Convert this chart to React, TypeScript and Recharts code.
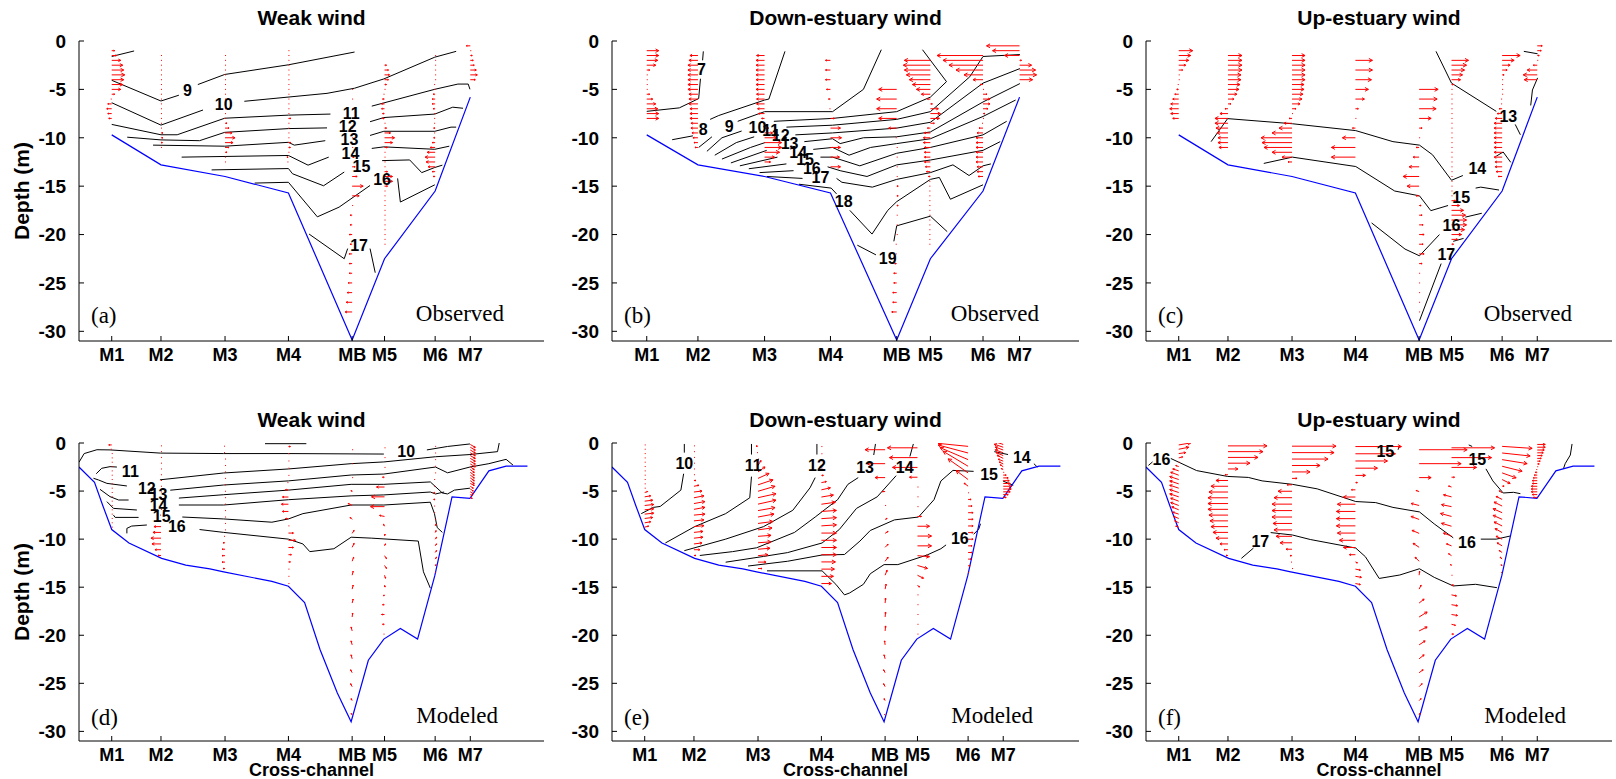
import React from 'react';
import { ComposedChart, Line, Scatter, XAxis, YAxis } from 'recharts';

type Pt = [number, number];
interface Contour { t?: string; at?: Pt; segs: Pt[][] }
interface Profile { st: string; top?: number; dz?: number; u: number[]; w?: number[] }

const STATIONS = ['M1', 'M2', 'M3', 'M4', 'MB', 'M5', 'M6', 'M7'];
const STATION_X = [0.95, 2.38, 4.24, 6.08, 7.93, 8.87, 10.34, 11.36];
const DEPTH_TICKS = [-30, -25, -20, -15, -10, -5, 0];

// bottom depth at the stations (observed sections)
const obsBed = [-9.7, -12.8, -14.0, -15.7, -30.9, -22.5, -15.5, -5.8];

// model bathymetry
const modelBed: Pt[] = [
  [0, -2.5], [0.45, -4.1], [0.7, -6.6], [0.95, -9.0], [1.45, -10.4], [2.4, -12.0], [3.1, -12.7],
  [3.8, -13.1], [4.2, -13.4], [5.6, -14.4], [6.08, -14.9], [6.55, -16.6], [7.0, -21.5], [7.5, -26.0],
  [7.9, -29.0], [8.4, -22.6], [8.85, -20.4], [9.33, -19.3], [9.83, -20.4], [10.33, -13.8],
  [10.83, -5.6], [11.35, -5.75], [11.9, -2.9], [12.4, -2.4], [13.02, -2.4],
];

// model sigma layers: [first depth, spacing]
const SIGMA: Record<string, Pt> = {
  M1: [-0.2, 0.45], M2: [-0.3, 0.6], M3: [-0.33, 0.67], M4: [-0.37, 0.75],
  MB: [-0.7, 1.45], M5: [-0.5, 1.02], M6: [-0.35, 0.69], M7: [-0.15, 0.29],
};

// ---------- isohalines (salinity contours) ----------
const weakObsContours: Contour[] = [
  { segs: [[[0.95, -1.6], [1.6, -1.03]]] },
  { t: '9', at: [3.15, -5.1], segs: [[[0.95, -4.06], [2.38, -6.2], [2.9, -5.6]], [[3.45, -4.5], [4.23, -3.46], [6.08, -2.46], [8.0, -1.14]]] },
  { t: '10', at: [4.2, -6.6], segs: [[[0.95, -6.38], [2.38, -8.69], [3.6, -7.13]], [[4.8, -6.23], [7.2, -5.41], [8.0, -4.88], [8.85, -3.92], [10.33, -1.67], [10.95, -1.07]]] },
  { t: '11', at: [7.9, -7.45], segs: [[[0.95, -8.62], [2.38, -9.69], [2.85, -9.69], [4.23, -7.98], [6.08, -7.66], [7.3, -7.55]], [[8.5, -6.73], [10.33, -4.99], [11.0, -4.45], [11.3, -4.45], [11.35, -4.99]]] },
  { t: '12', at: [7.8, -8.8], segs: [[[1.4, -9.94], [2.38, -10.22], [3.5, -10.3], [4.23, -9.44], [6.08, -9.05], [7.2, -8.98]], [[8.45, -8.34], [8.85, -7.91], [10.33, -7.55], [10.85, -6.84], [11.15, -6.95]]] },
  { t: '13', at: [7.85, -10.2], segs: [[[2.15, -10.76], [4.23, -10.87], [6.08, -10.47], [6.25, -10.76], [7.15, -10.3]], [[8.45, -9.76], [8.85, -9.33], [10.33, -9.33], [10.8, -8.9], [10.95, -8.9]]] },
  { t: '14', at: [7.88, -11.65], segs: [[[2.98, -12.0], [6.08, -11.83], [6.65, -12.83], [7.25, -12.0]], [[8.5, -11.1], [8.85, -10.94], [10.33, -11.19], [10.75, -10.87]]] },
  { t: '15', at: [8.2, -13.0], segs: [[[3.85, -13.32], [6.08, -13.18], [6.2, -13.72], [7.1, -14.96], [7.7, -13.54]], [[8.8, -12.36], [9.6, -12.29], [9.95, -13.6], [10.33, -13.07], [10.55, -12.83]]] },
  { t: '16', at: [8.8, -14.25], segs: [[[5.1, -14.68], [6.08, -14.6], [6.92, -18.17], [7.55, -17.17], [8.45, -14.93]], [[9.25, -14.2], [9.33, -16.64], [10.33, -14.86]]] },
  { t: '17', at: [8.13, -21.1], segs: [[[6.68, -19.95], [7.7, -22.5], [7.8, -21.45]], [[8.45, -21.45], [8.6, -23.94]]] },
];

const downObsContours: Contour[] = [
  { t: '7', at: [2.48, -2.92], segs: [[[0.95, -7.27], [1.86, -6.91], [2.4, -5.95], [2.45, -3.9]], [[2.51, -2.0], [2.53, -1.07]]] },
  { t: '8', at: [2.53, -9.16], segs: [[[1.66, -10.2], [2.24, -9.8]], [[2.72, -8.1], [2.96, -7.7], [4.24, -6.1], [4.36, -6.0], [4.81, -1.07]]] },
  { t: '9', at: [3.25, -8.87], segs: [[[2.4, -11.0], [2.77, -9.9]], [[3.49, -8.3], [4.24, -7.3], [6.14, -7.3], [7.0, -5.0], [7.5, -0.9]]] },
  { t: '10', at: [4.04, -8.91], segs: [[[2.63, -11.4], [3.05, -10.0], [3.6, -9.3]], [[4.5, -8.3], [6.14, -8.0], [7.93, -7.3], [8.87, -5.8], [9.32, -4.2], [8.65, -0.9]]] },
  { t: '11', at: [4.41, -9.26], segs: [[[2.85, -11.8], [3.45, -10.5], [3.95, -9.9]], [[4.85, -8.9], [6.14, -8.7], [7.93, -8.1], [8.87, -7.3], [9.97, -3.7], [10.34, -1.6], [11.37, -1.4]]] },
  { t: '12', at: [4.69, -9.76], segs: [[[3.05, -12.2], [3.85, -11.0], [4.25, -10.5]], [[5.1, -9.7], [6.14, -9.5], [7.93, -9.0], [8.87, -8.4], [10.34, -4.35], [11.37, -2.85]]] },
  { t: '13', at: [4.94, -10.58], segs: [[[3.3, -12.6], [4.3, -11.3]], [[5.35, -10.4], [6.14, -10.1], [6.35, -10.6], [7.0, -10.0], [7.93, -9.9], [8.87, -9.4], [10.34, -6.3], [11.37, -4.4]]] },
  { t: '14', at: [5.18, -11.47], segs: [[[3.55, -12.9], [4.6, -12.0]], [[5.6, -11.2], [6.14, -11.0], [6.6, -11.8], [7.2, -11.0], [7.93, -10.6], [8.87, -10.1], [10.34, -7.8], [11.25, -6.1]]] },
  { t: '15', at: [5.37, -12.26], segs: [[[3.8, -13.2], [4.85, -12.7]], [[5.8, -12.0], [6.14, -12.0], [6.9, -12.9], [7.93, -11.6], [8.87, -11.0], [10.34, -9.7], [11.0, -8.3]]] },
  { t: '16', at: [5.56, -13.15], segs: [[[4.1, -13.6], [5.05, -13.4]], [[6.0, -13.0], [6.35, -13.4], [7.1, -14.0], [7.93, -12.8], [8.87, -12.3], [10.34, -11.3], [10.82, -10.4]]] },
  { t: '17', at: [5.8, -14.14], segs: [[[4.3, -14.0], [5.3, -14.2]], [[6.25, -14.2], [6.4, -14.6], [7.25, -15.1], [7.93, -14.3], [8.87, -13.6], [9.5, -12.8], [9.95, -13.9], [10.34, -12.9], [10.56, -12.7]]] },
  { t: '18', at: [6.45, -16.53], segs: [[[5.2, -14.8], [6.1, -15.2], [6.25, -15.8]], [[6.62, -17.5], [7.24, -19.95], [7.68, -17.5], [7.93, -16.6], [8.87, -14.3], [9.12, -14.1], [9.43, -16.35], [10.34, -14.86]]] },
  { t: '19', at: [7.68, -22.44], segs: [[[6.83, -21.1], [7.35, -22.1]], [[7.85, -20.7], [7.93, -19.1], [8.87, -18.1], [9.34, -19.7]]] },
];

const upObsContours: Contour[] = [
  { t: '13', at: [10.52, -7.84], segs: [[[8.42, -1.07], [8.87, -4.35], [10.17, -7.27]], [[10.72, -8.62], [10.87, -9.69]]] },
  { segs: [[[10.97, -1.07], [11.37, -1.32]], [[11.37, -3.81], [11.22, -5.06], [11.17, -6.66]]] },
  { t: '14', at: [9.62, -13.15], segs: [[[1.89, -10.4], [2.37, -8.02], [4.25, -8.55], [6.09, -9.26], [7.17, -10.4], [7.94, -10.76], [8.32, -11.76], [8.87, -14.39], [9.2, -13.9]], [[10.17, -11.9], [10.37, -11.47], [10.59, -12.54]]] },
  { t: '15', at: [9.15, -16.2], segs: [[[3.42, -12.65], [4.25, -12.0], [6.09, -12.97], [7.22, -15.5], [7.94, -16.0], [8.27, -17.53], [8.77, -17.0]], [[9.57, -15.2], [9.72, -15.1], [10.25, -15.4]]] },
  { t: '16', at: [8.87, -19.1], segs: [[[6.55, -18.8], [7.52, -21.5], [7.94, -22.2], [8.52, -20.0]], [[9.27, -18.2], [9.75, -17.8]]] },
  { t: '17', at: [8.72, -22.0], segs: [[[7.94, -28.9], [8.57, -23.0]], [[8.92, -20.7], [9.22, -20.4]]] },
];

const weakModContours: Contour[] = [
  { segs: [[[5.4, -0.07], [6.6, -0.07]]] },
  { t: '10', at: [9.5, -0.9], segs: [[[0, -2.0], [0.15, -1.1], [0.52, -0.7], [0.9, -0.72], [2.36, -1.05], [4.2, -1.1], [6.08, -1.1], [8.85, -1.15]], [[10.1, -0.72], [10.7, -0.36], [11.35, -0.1]]] },
  { t: '11', at: [1.49, -2.97], segs: [[[0.5, -3.2], [0.66, -2.63], [0.9, -2.46], [1.1, -2.5]], [[2.35, -3.83], [4.2, -3.12], [6.08, -2.7], [7.9, -2.15], [8.85, -1.97], [10.35, -1.43], [11.35, -1.2], [12.15, -0.9], [12.2, 0]]] },
  { t: '12', at: [1.97, -4.71], segs: [[[0.42, -3.67], [0.57, -3.85], [0.81, -4.2], [1.39, -4.47]], [[2.65, -4.91], [4.2, -4.37], [6.08, -3.94], [7.9, -3.33], [8.85, -3.23], [10.35, -2.5], [10.7, -3.1], [11.35, -2.5], [11.9, -2.15], [12.4, -1.7], [12.6, -2.3]]] },
  { t: '13', at: [2.31, -5.3], segs: [[[0.61, -4.82], [0.9, -5.58], [1.15, -5.93], [1.44, -5.93]], [[2.9, -5.73], [4.2, -5.38], [6.08, -4.9], [7.9, -4.3], [8.85, -4.3], [10.2, -4.05], [10.55, -5.2], [10.7, -5.3], [10.9, -4.9], [11.35, -4.7]]] },
  { t: '14', at: [2.31, -6.45], segs: [[[0.81, -6.1], [1.0, -6.8], [1.68, -6.97]], [[2.9, -6.45], [4.2, -6.45], [6.08, -5.9], [7.9, -5.5], [8.85, -5.4], [10.2, -5.1], [10.35, -5.3], [10.6, -5.1]]] },
  { t: '15', at: [2.4, -7.6], segs: [[[1.0, -7.5], [1.05, -7.74], [1.73, -7.74]], [[3.0, -7.7], [4.2, -7.9], [5.6, -8.24], [6.08, -7.9], [6.5, -7.35], [7.9, -6.45], [8.85, -6.45], [10.2, -6.16], [10.32, -7.35], [10.4, -8.8], [10.55, -9.3]]] },
  { t: '16', at: [2.84, -8.7], segs: [[[1.39, -9.4], [1.39, -8.88], [1.53, -8.64], [1.97, -8.53]], [[3.5, -9.0], [4.2, -9.3], [6.08, -10.0], [6.5, -10.5], [6.7, -11.3], [7.4, -11.0], [7.9, -9.8], [8.5, -9.9], [9.85, -10.2], [10.0, -13.4], [10.2, -15.1]]] },
];

const downModContours: Contour[] = [
  { t: '10', at: [2.1, -2.15], segs: [[[0.85, -7.35], [1.2, -6.7], [1.4, -6.6], [2.0, -4.9], [2.08, -3.2]], [[2.1, -1.0], [2.1, -0.1]]] },
  { t: '11', at: [4.1, -2.33], segs: [[[1.55, -10.4], [2.4, -8.7], [3.3, -7.35], [4.0, -5.7], [4.05, -3.5]], [[4.05, -1.2], [4.05, -0.1]]] },
  { t: '12', at: [5.95, -2.33], segs: [[[2.1, -11.2], [3.3, -10.0], [4.4, -8.7], [5.25, -7.0], [5.75, -4.66], [5.9, -3.6]], [[5.95, -1.2], [5.95, -0.1]]] },
  { t: '13', at: [7.35, -2.5], segs: [[[2.55, -11.7], [3.5, -11.3], [4.2, -10.9], [5.3, -9.3], [5.9, -7.7], [6.55, -5.9], [6.85, -4.3], [7.15, -3.6]], [[7.6, -1.25], [7.65, -0.1]]] },
  { t: '14', at: [8.5, -2.5], segs: [[[3.3, -12.4], [4.4, -11.8], [5.1, -11.4], [6.1, -10.4], [6.6, -9.0], [7.1, -6.8], [7.7, -5.6], [8.25, -3.4]], [[8.65, -1.4], [8.75, -0.1]]] },
  { t: '15', at: [10.95, -3.23], segs: [[[3.95, -12.8], [5.1, -12.3], [6.1, -11.65], [6.75, -11.6], [7.2, -10.2], [7.5, -9.1], [8.2, -8.0], [8.9, -7.7], [9.35, -5.9], [9.55, -3.95], [9.9, -2.85], [10.5, -2.95]], [[11.35, -3.95], [11.65, -4.4]]] },
  { t: '16', at: [10.1, -9.93], segs: [[[4.5, -13.3], [6.1, -13.3], [6.5, -14.7], [6.75, -15.8], [6.9, -15.6], [7.3, -14.7], [7.5, -13.6], [7.9, -12.65], [8.3, -12.65], [9.15, -11.65], [9.55, -11.0], [9.7, -10.6]], [[10.5, -9.5], [10.65, -8.95], [10.7, -8.4]]] },
  { t: '14', at: [11.9, -1.54], segs: [[[11.1, -0.9], [11.5, -1.2]], [[12.25, -2.15], [12.35, -2.5]]] },
];

const upModContours: Contour[] = [
  { t: '16', at: [0.45, -1.68], segs: [[[0.07, -2.33], [0.19, -1.97]], [[0.72, -1.61], [1.47, -2.87], [2.37, -3.48], [2.97, -3.58], [3.37, -3.94], [4.25, -4.3], [4.97, -4.77], [6.09, -6.09], [6.67, -6.2], [7.17, -6.7], [7.94, -7.17], [8.37, -8.42], [8.92, -9.86]]] },
  { t: '16', at: [9.32, -10.39], segs: [[[9.72, -10.0], [10.17, -10.0], [10.57, -9.68]]] },
  { t: '17', at: [3.32, -10.22], segs: [[[2.77, -12.0], [3.12, -10.93]], [[3.62, -9.32], [4.25, -9.57], [4.77, -10.04], [6.09, -10.93], [6.37, -11.83], [6.77, -14.09], [7.37, -13.73], [7.94, -13.08], [8.37, -13.98], [8.92, -14.87], [9.57, -14.7], [10.19, -15.05]]] },
  { t: '15', at: [6.95, -0.9], segs: [[[7.35, -0.36], [7.32, -0.7]]] },
  { t: '15', at: [9.62, -1.68], segs: [[[9.37, -0.2], [9.47, -0.36]], [[9.87, -2.69], [10.07, -3.94], [10.37, -5.2], [10.67, -5.13], [10.87, -5.27]], [[12.37, -0.1], [12.32, -1.25], [12.17, -2.15], [12.12, -2.69]]] },
];

// ---------- velocity profiles (cm/s, across-channel u and vertical w) ----------
const weakObsArrows: Profile[] = [
  { st: 'M1', top: -1, dz: 0.5, u: [3, 5, 9, 11, 12, 13, 12, 11, 9, 3, -1, -4, -5, -4, -3] },
  { st: 'M2', top: -1.5, dz: 0.5, u: [0.5, 0.5, 0.5, 0.5, 0.5, 0.5, 0.5, 0.5, 0.5, 0.5, 0.5, 0.5, 0.5, 0.5, 0.5, 1, 2, 2, 1.5, 0.5] },
  { st: 'M3', top: -1.5, dz: 0.5, u: [0.5, 0.5, 0.5, 0.5, 0.5, 0.5, 0.5, 0.5, 0.5, 0.5, 0.5, 0.5, 0.5, 1, 2, 4, 7, 10, 8, 4, 2, 1, 0.5] },
  { st: 'M4', top: -1, dz: 0.5, u: [0.5, 0.5, 0.5, 0.5, 0.5, 0.5, 1, 0.5, 0.5, 0.5, 0.5, 0.5, 0.5, 1, 2.5, 1, 0.5, 0.5, 1, 2.5, 2, 0.5, -1.5, -0.5] },
  { st: 'MB', top: -5, dz: 1, u: [0.5, 0.5, 0.5, 0.5, 0.5, 0.5, 1, 2, 3, 5, 11, 7, 1, -2, -2, -3, -2, -3, -3, -3, -4, -5, -6, -7] },
  { st: 'M5', top: -2.5, dz: 0.5, u: [2, 4, 5, 4, 2, 1, -1, -2, -3, -3, -2, -2, 1, 2, 6, 10, 8, 3, 1, 1, 1, 1, 3, 8, 8, 3, 1, 0.5, 0.5, 0.5, 0.5, 0.5, 0.5, 0.5, 0.5, 0.5, 0.5, 0.5] },
  { st: 'M6', top: -1.5, dz: 0.5, u: [0.5, 0.5, 0.5, 0.5, 0.5, 0.5, -0.5, -1, -2, -3, -3, -2, -1, -1, -1, -1.5, -1, -1.5, -3, -5, -8, -10, -9, -7, -3, -2] },
  { st: 'M7', top: -0.5, dz: 0.5, u: [-4, 1, 2, 3, 4, 6, 7, 5] },
];

const downObsArrows: Profile[] = [
  { st: 'M1', top: -1, dz: 0.5, u: [12, 12, 11, 9, 3, 1, 0.5, 0.5, 1, 3, 6, 9, 11, 12, 12] },
  { st: 'M2', top: -1.5, dz: 0.5, u: [-8, -9, -10, -10, -10, -10, -10, -10, -9, -9, -9, -8, -8, -8, -7, -7, -6, -5, -4, -3] },
  { st: 'M3', top: -1.5, dz: 0.5, u: [-8, -8.5, -8.5, -8.5, -8.5, -8.5, -8.5, -8.5, -8, -8, -8, -7, -6, -3, 1, 4, 8, 12, 17, 17, 15, 10, 6] },
  { st: 'M4', top: -2, dz: 1, u: [-5, -5, -5, -4, -2, -1, 4, 10, 11, 10, 9, 10] },
  { st: 'MB', top: -5, dz: 1, u: [-18, -20, -20, -18, -8, -1, 0.5, 0.5, 1, 1, 1.5, 1.5, 1.5, 1, 0.5, 0.5, -0.5, -1, -2, -3, -3, -4, -4, -5] },
  { st: 'M5', top: -2, dz: 0.5, u: [-26, -27, -26, -24, -21, -18, -14, -9, -3, 2, 8, 10, 9, 4, -3, -6, -7, -7, -6, -6, -6, -6, -5, -4, -2, -1, -0.5, -0.5, -0.5, -0.5, -0.5, -0.5, -0.5, -0.5, -0.5, -0.5, -0.5, -0.5, -0.5] },
  { st: 'M6', top: -1.5, dz: 0.5, u: [-46, -40, -34, -27, -19, -10, -3, 1, 4, 7, 7, 5, 2, 0.5, -1, -4, -6, -7, -7, -7, -7, -7, -7, -6, -6, -5] },
  { st: 'M7', top: -0.5, dz: 0.5, u: [-33, -27, -15, 2, 12, 16, 17, 13] },
];

const upObsArrows: Profile[] = [
  { st: 'M1', top: -1, dz: 0.5, u: [14, 12, 10, 7, 4, 1, 0.5, -1, -2, -4, -6, -8, -9, -8, -6] },
  { st: 'M2', top: -1.5, dz: 0.5, u: [14, 14, 14, 14, 13, 13, 12, 11, 9, 6, 3, -3, -8, -13, -13, -12, -11, -10, -10, -9] },
  { st: 'M3', top: -1.5, dz: 0.5, u: [13, 13, 13, 13, 13, 13, 12, 12, 11, 10, 8, 4, 1, -3, -8, -13, -20, -31, -30, -28, -20, -10, -4] },
  { st: 'M4', top: -2, dz: 1, u: [17, 17, 16, 13, 9, 3, 0.5, -3, -13, -24, -24] },
  { st: 'MB', top: -5, dz: 1, u: [19, 18, 17, 12, 3, 0.5, -3, -6, -10, -16, -12, -3, 2, 3, 4, 5, 4, 5, 3, 1, 0.5, 0.5, 0.5, 0.5] },
  { st: 'M5', top: -2, dz: 0.5, u: [17, 15, 13, 11, 9, 2, 0.5, 0.5, 0.5, 0.5, 0.5, 0.5, 0.5, 0.5, 0.5, 0.5, 0.5, 0.5, 0.5, 0.5, 0.5, 0.5, 0.5, 0.5, 0.5, 0.5, 0.5, 0.5, 0.5, 4, 8, 12, 14, 15, 15, 13, 10, 6, 2] },
  { st: 'M6', top: -1.5, dz: 0.5, u: [18, 12, 8, 5, 2, 0.5, 0.5, 0.5, 0.5, -0.5, -1, -3, -5, -7, -8, -8, -8, -8, -8, -8, -8, -8, -7, -7, -6, -4] },
  { st: 'M7', top: -0.5, dz: 0.5, u: [5, 4, 2, 0.5, -4, -10, -14, -13] },
];

const weakModArrows: Profile[] = [
  { st: 'M1', u: [-3, -1, 0.5, 0.5, 1, 1, 1, 1, 1, 1, 1, 1, 1, 0.5, 0.5, 0.5, 0.5, 0.5, 0.5, 0.5] },
  { st: 'M2', u: [0.5, 0.5, 0.5, 0.5, 0.5, 0.5, 0.5, 0.5, 0.5, 0.5, 0.5, 0.5, -1, -4, -7, -8, -10, -9, -6, -3] },
  { st: 'M3', u: [-1, -0.5, 0.5, 0.5, 0.5, 0.5, 0.5, 0.5, 0.5, 0.5, 0.5, 0.5, 0.5, 0.5, -1, -2, -3, -3, -3, -2] },
  { st: 'M4', u: [2, 1, 0.5, 0.5, 0.5, -1, -3, -6, -7, -6, -3, 1, 5, 7, 5, 3, 2, 1, 0.5, 0.5] },
  { st: 'MB', u: [0.5, 0.5, 0.5, -1, -4, -2, 2, 2, 1.5, 1, 1, 1, 0.5, -1, -1, -1, -1.5, -1.5, -1, -1], w: [0, 0, 0, 1, 2, 2, 3, 4, 4, 4, 4, 4, 4, 4, 4, 4, 3, 3, 2, 1] },
  { st: 'M5', u: [0.5, 0.5, 0.5, -2, -8, -13, -14, -5, -1, 0.5, 1, 2, 2, 1, 0.5, -1, -2, -3, -2, -1], w: [0, 0, 0, 0, 0, 0, 0, 1, 2, 2, 2, -3, -3, -3, -2, -1, 0, 0, 0, 0] },
  { st: 'M6', u: [0.5, 0.5, 0.5, 0.5, 0.5, -0.5, -1, -1.5, -1.5, -1, -0.5, 0.5, 1, 1, 1.5, 1.5, 1.5, 1.5, 1, 0.5], w: [0, 0, 0, 0, 0, 0, 0, 0, 0, 0, 0, 1, 2, 2, 2, 2, 2, 2, 1, 1] },
  { st: 'M7', u: [5, 5, 5, 5, 5, 5, 5, 5, 4, 4, 4, 4, 4, 4, 4, 3, 3, 3, 2, 2], w: [-3, -3, -3, -3, -3, -3, -3, -3, -3, -3, -3, -3, -3, -3, -2, -2, -2, -2, -1, -1] },
];

const downModArrows: Profile[] = [
  { st: 'M1', u: [0.5, 0.5, 0.5, 0.5, 0.5, 0.5, 0.5, 0.5, 0.5, 0.5, 1, 3, 6, 8, 9, 9, 9, 8, 6, 4], w: [0, 0, 0, 0, 0, 0, 0, 0, 0, 0, 0, 1, 1, 1, 1, 1, 1, 1, 1, 1] },
  { st: 'M2', u: [0.5, 0.5, 0.5, 0.5, 0.5, 0.5, 2, 5, 8, 10, 11, 11, 11, 10, 10, 9, 9, 8, 6, 2], w: [0, 0, 0, 0, 0, 0, 0, 1, 1, 2, 2, 2, 1, 1, 1, 1, 1, 1, 0, 0] },
  { st: 'M3', u: [-2, -1, 0.5, 3, 7, 11, 15, 17, 18, 18, 17, 16, 15, 14, 13, 13, 12, 10, 8, 4], w: [0, 0, 0, 5, 5, 5, 5, 5, 4, 4, 3, 3, 2, 2, 1, 1, 1, 1, 0, 0] },
  { st: 'M4', u: [0.5, 0.5, 0.5, 1, 2, 5, 9, 12, 14, 15, 15, 15, 15, 15, 15, 15, 14, 13, 12, 10], w: [0, 0, 0, 0, 0, 1, 2, 2, 2, 1, 1, 1, 0, 0, 0, 0, 0, 0, 0, 0] },
  { st: 'MB', u: [-20, -18, -10, -3, 0.5, 2, 3, 3, 3, 2, 1, 0.5, 0.5, 0.5, -0.5, -1, -1.5, -1.5, -1, -0.5], w: [0, 0, 0, 0, 0, 1, 2, 3, 4, 5, 5, 5, 5, 5, 4, 4, 3, 3, 2, 1] },
  { st: 'M5', u: [-30, -28, -25, -8, 0.5, 0.5, 0.5, 4, 12, 14, 14, 12, 10, 6, 2, 0.5, 0.5, 0.5, 0.5, 0.5], w: [0, 0, 0, 0, 0, 0, 0, 0, 0, 0, 0, -1, -3, -3, -2, 0, 0, 0, 0, 0] },
  { st: 'M6', u: [-30, -30, -28, -25, -20, -12, -4, 1, 3, 4, 5, 5, 5, 5, 5, 4, 4, 3, 2, 1], w: [3, 8, 12, 15, 14, 9, 3, 0, 0, 0, 0, 0, 0, 0, 0, 0, 0, 0, 0, 0] },
  { st: 'M7', u: [-9, -9, -8, -8, -7, -6, -5, -4, -3, -2, 1, 3, 5, 6, 7, 8, 8, 7, 5, 3], w: [3, 3, 3, 3, 3, 3, 2, 2, 2, 1, 0, 0, 0, 0, 0, 0, 0, 0, 0, 0] },
];

const upModArrows: Profile[] = [
  { st: 'M1', u: [12, 10, 7, 4, 1, -3, -6, -8, -9, -9, -9, -9, -9, -8, -8, -7, -6, -5, -4, -3], w: [2, 2, 1, 1, 0, 1, 2, 3, 3, 3, 3, 3, 3, 3, 3, 3, 2, 2, 2, 1] },
  { st: 'M2', u: [39, 35, 30, 22, 10, -3, -12, -17, -19, -20, -20, -20, -19, -18, -17, -15, -12, -8, -4, -2] },
  { st: 'M3', u: [44, 42, 36, 28, 18, 5, -5, -14, -18, -20, -20, -20, -19, -18, -16, -12, -6, -2, -0.5, 0.5] },
  { st: 'M4', u: [46, 40, 32, 22, 10, 2, -4, -12, -18, -19, -19, -19, -18, -16, -12, -6, 2, 5, 6, 5], w: [0, 0, 0, 0, 0, 0, 0, 0, 0, 0, 0, 0, 0, 0, 0, 0, -1, -1, -1, -1] },
  { st: 'MB', u: [48, 42, 12, -3, -8, -8, -7, -6, -4, 0.5, 2, 5, 8, 8, 6, 5, 4, 3, 2, 1], w: [0, 0, 0, 1, 2, 3, 3, 4, 4, 4, 4, 4, 5, 4, 4, 4, 3, 3, 2, 1] },
  { st: 'M5', u: [43, 40, 25, 3, -3, -8, -10, -11, -10, -8, -5, -3, -1, 0.5, 2, 5, 6, 6, 4, 2], w: [0, 0, 0, 0, 1, 2, 2, 3, 3, 3, 2, 2, 1, 0, 0, -1, -1, -1, -1, 0] },
  { st: 'M6', u: [30, 28, 25, 20, 14, 8, 2, -3, -6, -8, -9, -9, -8, -7, -6, -5, -3, -2, -1, -0.5], w: [-2, -3, -4, -5, -5, -4, 0, 2, 3, 4, 4, 4, 4, 4, 3, 3, 2, 2, 1, 0] },
  { st: 'M7', u: [8, 8, 7, 6, 5, 4, 3, 2, 1, -1, -2, -3, -4, -5, -5, -6, -6, -6, -5, -4] },
];

// ---------- helpers ----------
const RED = '#ff0000';
const ARROW_PX = 1; // px per cm/s
const SANS = '"Liberation Sans", Arial, Helvetica, sans-serif';
const SERIF = '"Liberation Serif", "Times New Roman", serif';
const Y_AXIS_W = 60;
const X_AXIS_H = 34;
const TOP_PAD = 14;
const TICK_GAP_Y = 13;
const TICK_GAP_X = 7;
const TICK_LEN = 5;

const stationX = (st: string) => STATION_X[STATIONS.indexOf(st)];

const toArrows = (profiles: Profile[]) =>
  profiles.flatMap((p) => {
    const [top, dz] = p.top !== undefined ? [p.top, p.dz as number] : SIGMA[p.st];
    return p.u.map((u, i) => ({ x: stationX(p.st), y: top - i * dz, u, w: p.w ? p.w[i] : 0 }));
  });

const toPts = (seg: Pt[]) => seg.map(([x, y]) => ({ x, y }));

const ArrowShape = (props: any) => {
  const { cx, cy, payload } = props;
  if (cx == null || cy == null) return <g />;
  const dx = payload.u * ARROW_PX;
  const dy = -payload.w * ARROW_PX;
  const len = Math.hypot(dx, dy);
  if (len < 1.2) {
    return <line x1={cx} y1={cy} x2={cx + (dx >= 0 ? 1 : -1)} y2={cy} stroke={RED} strokeWidth={1} />;
  }
  const ex = cx + dx;
  const ey = cy + dy;
  const h = Math.max(1.2, Math.min(len * 0.3, 4));
  const a = Math.atan2(dy, dx);
  const h1x = ex - h * Math.cos(a - 0.5);
  const h1y = ey - h * Math.sin(a - 0.5);
  const h2x = ex - h * Math.cos(a + 0.5);
  const h2y = ey - h * Math.sin(a + 0.5);
  return (
    <path
      d={`M${cx},${cy}L${ex},${ey}M${h1x},${h1y}L${ex},${ey}L${h2x},${h2y}`}
      stroke={RED}
      strokeWidth={1}
      fill="none"
    />
  );
};

const LabelShape = (props: any) => {
  const { cx, cy, payload } = props;
  if (cx == null) return <g />;
  return (
    <text x={cx} y={cy} dy="0.35em" textAnchor="middle" fontFamily={SANS} fontWeight="bold" fontSize={16} fill="#000">
      {payload.t}
    </text>
  );
};

const BottomTick = (props: any) => {
  const { x, y, payload } = props;
  const ay = y - TICK_GAP_X;
  return (
    <g>
      <line x1={x} x2={x} y1={ay} y2={ay - TICK_LEN} stroke="#000" />
      <text x={x} y={y} dy="0.71em" textAnchor="middle" fontFamily={SANS} fontWeight="bold" fontSize={18} fill="#000">
        {STATIONS[STATION_X.indexOf(payload.value)]}
      </text>
    </g>
  );
};

const TopTick = (props: any) => {
  const { x, y } = props;
  return <line x1={x} x2={x} y1={y} y2={y + TICK_LEN} stroke="#000" />;
};

const LeftTick = (props: any) => {
  const { x, y, payload } = props;
  const ax = x + TICK_GAP_Y;
  return (
    <g>
      <line x1={ax} x2={ax + TICK_LEN} y1={y} y2={y} stroke="#000" />
      <text x={x} y={y} dy="0.36em" textAnchor="end" fontFamily={SANS} fontWeight="bold" fontSize={19} fill="#000">
        {payload.value}
      </text>
    </g>
  );
};

const RightTick = (props: any) => {
  const { x, y } = props;
  return <line x1={x} x2={x - TICK_LEN} y1={y} y2={y} stroke="#000" />;
};

interface PanelCfg {
  title: string;
  tag: string;
  kind: string;
  box: [number, number, number, number];
  xDomain: [number, number];
  bed: Pt[];
  contours: Contour[];
  arrows: Profile[];
}

const obsBedPts: Pt[] = STATION_X.map((x, i) => [x, obsBed[i]]);

const PANELS: PanelCfg[] = [
  { title: 'Weak wind', tag: '(a)', kind: 'Observed', box: [79, 41, 465, 300], xDomain: [0, 13.5], bed: obsBedPts, contours: weakObsContours, arrows: weakObsArrows },
  { title: 'Down-estuary wind', tag: '(b)', kind: 'Observed', box: [612, 41, 467, 300], xDomain: [-0.02, 13.02], bed: obsBedPts, contours: downObsContours, arrows: downObsArrows },
  { title: 'Up-estuary wind', tag: '(c)', kind: 'Observed', box: [1146, 41, 466, 300], xDomain: [0, 13.53], bed: obsBedPts, contours: upObsContours, arrows: upObsArrows },
  { title: 'Weak wind', tag: '(d)', kind: 'Modeled', box: [79, 443, 465, 298], xDomain: [0, 13.5], bed: modelBed, contours: weakModContours, arrows: weakModArrows },
  { title: 'Down-estuary wind', tag: '(e)', kind: 'Modeled', box: [612, 443, 467, 298], xDomain: [0, 13.56], bed: modelBed, contours: downModContours, arrows: downModArrows },
  { title: 'Up-estuary wind', tag: '(f)', kind: 'Modeled', box: [1146, 443, 466, 298], xDomain: [0, 13.53], bed: modelBed, contours: upModContours, arrows: upModArrows },
];

const Panel = ({ p }: { p: PanelCfg }) => {
  const [left, top, w, h] = p.box;
  const W = Y_AXIS_W + w + 2;
  const H = TOP_PAD + h + X_AXIS_H;
  const labels = p.contours.filter((c) => c.at).map((c) => ({ x: (c.at as Pt)[0], y: (c.at as Pt)[1], t: c.t }));
  const arrows = toArrows(p.arrows);
  const axisIds = { xAxisId: 'b', yAxisId: 'l' };
  return (
    <div style={{ position: 'absolute', left: left - Y_AXIS_W, top: top - TOP_PAD, width: W, height: H }}>
      <ComposedChart width={W} height={H} margin={{ top: TOP_PAD, right: 2, bottom: 0, left: 0 }}>
        <XAxis
          xAxisId="b"
          type="number"
          dataKey="x"
          domain={p.xDomain}
          allowDataOverflow
          ticks={STATION_X}
          interval={0}
          height={X_AXIS_H}
          tickSize={0}
          tickMargin={TICK_GAP_X}
          tickLine={false}
          tick={BottomTick}
          axisLine={{ stroke: '#000' }}
        />
        <XAxis
          xAxisId="t"
          orientation="top"
          type="number"
          dataKey="x"
          domain={p.xDomain}
          allowDataOverflow
          ticks={STATION_X}
          interval={0}
          height={0}
          tickSize={0}
          tickMargin={0}
          tickLine={false}
          tick={TopTick}
          axisLine={{ stroke: '#000' }}
        />
        <YAxis
          yAxisId="l"
          type="number"
          dataKey="y"
          domain={[-31, 0]}
          allowDataOverflow
          ticks={DEPTH_TICKS}
          interval={0}
          width={Y_AXIS_W}
          tickSize={0}
          tickMargin={TICK_GAP_Y}
          tickLine={false}
          tick={LeftTick}
          axisLine={{ stroke: '#000' }}
        />
        <YAxis
          yAxisId="r"
          orientation="right"
          type="number"
          dataKey="y"
          domain={[-31, 0]}
          allowDataOverflow
          ticks={DEPTH_TICKS}
          interval={0}
          width={0}
          tickSize={0}
          tickMargin={0}
          tickLine={false}
          tick={RightTick}
          axisLine={{ stroke: '#000' }}
        />
        <Scatter {...axisIds} data={arrows} shape={ArrowShape} isAnimationActive={false} />
        {p.contours.flatMap((c, ci) =>
          c.segs.map((seg, si) => (
            <Line
              key={`c${ci}-${si}`}
              {...axisIds}
              data={toPts(seg)}
              dataKey="y"
              type="linear"
              stroke="#000"
              strokeWidth={1}
              dot={false}
              activeDot={false}
              isAnimationActive={false}
            />
          ))
        )}
        <Line
          {...axisIds}
          data={toPts(p.bed)}
          dataKey="y"
          type="linear"
          stroke="#0000ff"
          strokeWidth={1.2}
          dot={false}
          activeDot={false}
          isAnimationActive={false}
        />
        <Scatter {...axisIds} data={labels} shape={LabelShape} isAnimationActive={false} />
      </ComposedChart>
    </div>
  );
};

const Overlay = ({ p, first, bottomRow }: { p: PanelCfg; first: boolean; bottomRow: boolean }) => {
  const [left, top, w, h] = p.box;
  const cx = left + w / 2;
  const txt: React.CSSProperties = { position: 'absolute', whiteSpace: 'nowrap', color: '#000', lineHeight: 1 };
  return (
    <>
      <div style={{ ...txt, left: cx, top: top - 24, transform: 'translate(-50%, -50%)', fontFamily: SANS, fontWeight: 'bold', fontSize: 21 }}>
        {p.title}
      </div>
      <div style={{ ...txt, left: left + 12, top: top + 274, transform: 'translateY(-50%)', fontFamily: SERIF, fontSize: 23 }}>
        {p.tag}
      </div>
      <div
        style={{
          ...txt,
          right: 1616 - (left + w - (p.kind === 'Observed' ? 40 : 46)),
          top: top + 272,
          transform: 'translateY(-50%)',
          fontFamily: SERIF,
          fontSize: 23,
        }}
      >
        {p.kind}
      </div>
      {first && (
        <div
          style={{
            ...txt,
            left: 21,
            top: top + h / 2,
            transform: 'translate(-50%, -50%) rotate(-90deg)',
            fontFamily: SANS,
            fontWeight: 'bold',
            fontSize: 21,
          }}
        >
          Depth (m)
        </div>
      )}
      {bottomRow && (
        <div style={{ ...txt, left: cx, top: 770, transform: 'translate(-50%, -50%)', fontFamily: SANS, fontWeight: 'bold', fontSize: 18 }}>
          Cross-channel
        </div>
      )}
    </>
  );
};

const App = () => (
  <div style={{ position: 'absolute', left: 0, top: 0, width: 1616, height: 779, background: '#fff', overflow: 'hidden' }}>
    {PANELS.map((p, i) => (
      <React.Fragment key={p.tag}>
        <Panel p={p} />
        <Overlay p={p} first={i % 3 === 0} bottomRow={i >= 3} />
      </React.Fragment>
    ))}
  </div>
);

export default App;
